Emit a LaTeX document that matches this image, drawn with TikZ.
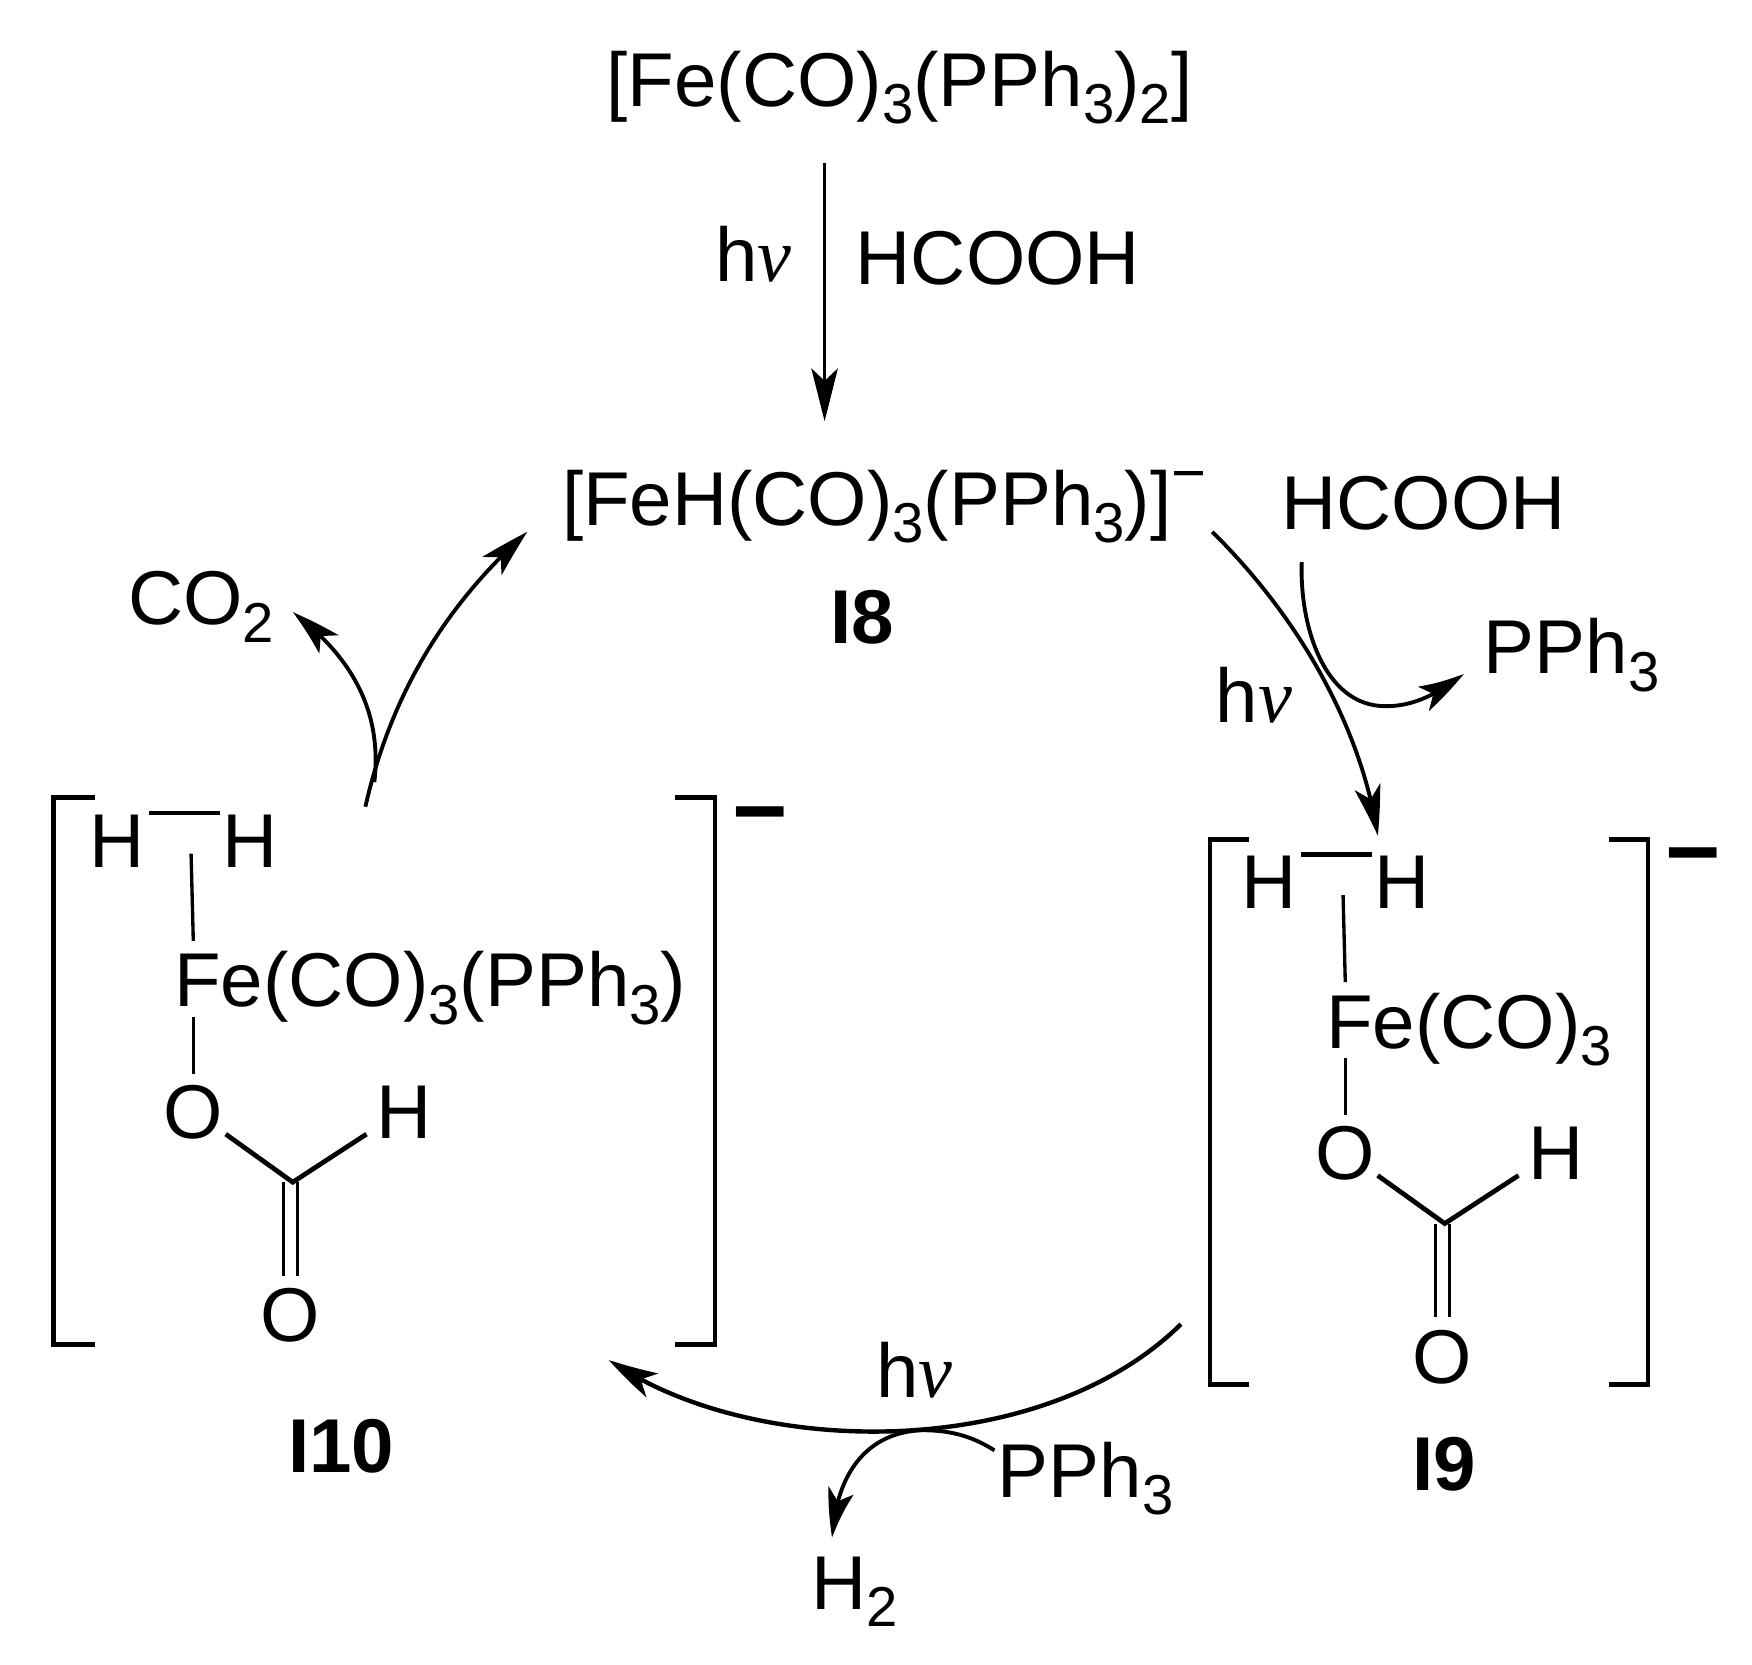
\documentclass[tikz,border=0pt]{standalone}
\usepackage{fontspec}
\setmainfont{Liberation Sans}
\usetikzlibrary{arrows.meta,bending}
\newcommand{\csub}[1]{\raisebox{-0.23em}{\fontsize{16}{16}\selectfont #1}}
\newcommand{\csup}{\raisebox{0.42em}{\fontsize{17}{17}\selectfont −}}
\newcommand{\hnu}{h\textit{\fontspec{Liberation Serif}ν}}
\tikzset{
  txt/.style={anchor=base west,inner sep=0pt,outer sep=0pt,font=\fontsize{21.7}{24}\selectfont},
  bold/.style={txt,font=\fontsize{21.7}{24}\selectfont\bfseries},
  atom/.style={anchor=base,inner sep=0pt,outer sep=0pt,font=\fontsize{21.7}{24}\selectfont},
  minus/.style={anchor=center,inner sep=0pt,outer sep=0pt,font=\fontsize{27}{27}\selectfont\bfseries},
  arr/.style={line width=1.1pt,-{Stealth[length=14pt,width=7.5pt,inset=3.5pt,bend]}},
  arrs/.style={line width=1pt,-{Stealth[length=15pt,width=7.5pt,inset=3.5pt]}},
  brk/.style={line width=1.35pt,line cap=butt,line join=miter},
  bnd/.style={line width=0.95pt},
  bndb/.style={line width=1.35pt},
}
\begin{document}
\begin{tikzpicture}[x=0.011173cm,y=-0.011173cm]
\useasboundingbox (0,0) rectangle (1568,1490);

% top
\node[txt] (fe) at (543,95) {[Fe(CO)\csub{3}(PPh\csub{3})\csub{2}]};
\node[txt] (nu1) at (640,252) {\hnu};
\node[txt] (hc1) at (766,255) {HCOOH};
\node[txt] (i8f) at (503,470) {[FeH(CO)\csub{3}(PPh\csub{3})]\csup};
\node[bold] (i8) at (743,576) {I8};
\node[txt] (hc2) at (1147,474) {HCOOH};
\node[txt] (pp1) at (1328,603) {PPh\csub{3}};
\node[txt] (nu2) at (1088,647) {\hnu};
\node[txt] (co2) at (115,559) {CO\csub{2}};

\coordinate (a1s) at (738,146);
\coordinate (a1e) at (738,377);
\draw[arrs] (a1s) -- (a1e);

\coordinate (a2s) at (1085,476);
\coordinate (a2e) at (1233,748);
\draw[arr] (a2s) .. controls (1170,560) and (1220,660) .. (a2e);

\coordinate (a3s) at (1165,503);
\coordinate (a3m) at (1240,632);
\coordinate (a3e) at (1310,603);
\draw[arr] (a3s) .. controls (1163,560) and (1185,632) .. (a3m)
  .. controls (1265,632) and (1285,622) .. (a3e);

\coordinate (a4s) at (327,722);
\coordinate (a4e) at (472,476);
\draw[arr] (a4s) .. controls (350,620) and (400,540) .. (a4e);

\coordinate (a5s) at (335,700);
\coordinate (a5e) at (262,548);
\draw[arr] (a5s) .. controls (342,640) and (318,590) .. (a5e);

\coordinate (a6s) at (1057,1185);
\coordinate (a6e) at (545,1217);
\draw[arr,line width=1.25pt] (a6s) .. controls (930,1310) and (670,1305) .. (a6e);

\coordinate (a7s) at (890,1298);
\coordinate (a7m) at (825,1280);
\coordinate (a7e) at (745,1376);
\draw[arr] (a7s) .. controls (868,1284) and (848,1280) .. (a7m)
  .. controls (775,1282) and (748,1320) .. (a7e);

\node[txt] (nu3) at (784,1251) {\hnu};
\node[txt] (pp2) at (893,1340) {PPh\csub{3}};
\node[txt] (h2) at (726,1440) {H\csub{2}};

% I10
\draw[brk] (85,714) -- (48,714) -- (48,1203) -- (85,1203);
\draw[brk] (604,714) -- (640,714) -- (640,1203) -- (604,1203);
\node[minus] (m10) at (680,738) {−};
\node[atom] (h10a) at (105,776) {H};
\node[atom] (h10b) at (224,776) {H};
\draw[bndb] (h10a.east) ++(4,-25) -- ++(63,0);
\coordinate (b10a) at (171,764);
\coordinate (b10b) at (173,842);
\draw[bnd] (b10a) -- (b10b);
\node[txt] (fe10) at (156,901) {Fe(CO)\csub{3}(PPh\csub{3})};
\coordinate (b10c) at (173,910);
\coordinate (b10d) at (173,961);
\draw[bnd] (b10c) -- (b10d);
\node[atom] (o10) at (173,1019) {O};
\node[atom] (hf10) at (362,1019) {H};
\coordinate (c10) at (262,1058);
\coordinate (b10e) at (202,1015);
\coordinate (b10f) at (328,1015);
\draw[bndb,line join=miter] (b10e) -- (c10) -- (b10f);
\coordinate (b10g) at (254,1058);
\coordinate (b10h) at (254,1142);
\coordinate (b10i) at (266,1058);
\coordinate (b10j) at (266,1142);
\draw[bnd] (b10g) -- (b10h);
\draw[bnd] (b10i) -- (b10j);
\node[atom] (oo10) at (260,1201) {O};
\node[bold] (i10) at (258,1318) {I10};

% I9
\begin{scope}[shift={(1031,37)}]
\node[atom] (h9a) at (105,776) {H};
\node[atom] (h9b) at (224,776) {H};
\draw[bndb] (h9a.east) ++(4,-25) -- ++(63,0);
\coordinate (b9a) at (171,764);
\coordinate (b9b) at (173,842);
\draw[bnd] (b9a) -- (b9b);
\node[txt] (fe9) at (156,901) {Fe(CO)\csub{3}};
\coordinate (b9c) at (173,910);
\coordinate (b9d) at (173,961);
\draw[bnd] (b9c) -- (b9d);
\node[atom] (o9) at (173,1019) {O};
\node[atom] (hf9) at (362,1019) {H};
\coordinate (c9) at (262,1058);
\coordinate (b9e) at (202,1015);
\coordinate (b9f) at (328,1015);
\draw[bndb,line join=miter] (b9e) -- (c9) -- (b9f);
\coordinate (b9g) at (254,1058);
\coordinate (b9h) at (254,1142);
\coordinate (b9i) at (266,1058);
\coordinate (b9j) at (266,1142);
\draw[bnd] (b9g) -- (b9h);
\draw[bnd] (b9i) -- (b9j);
\node[atom] (oo9) at (260,1201) {O};
\end{scope}
\draw[brk] (1118,751) -- (1083,751) -- (1083,1239) -- (1118,1239);
\draw[brk] (1440,751) -- (1475,751) -- (1475,1239) -- (1440,1239);
\node[minus] (m9) at (1515,775) {−};
\node[bold] (i9) at (1264,1334) {I9};
\end{tikzpicture}
\end{document}
